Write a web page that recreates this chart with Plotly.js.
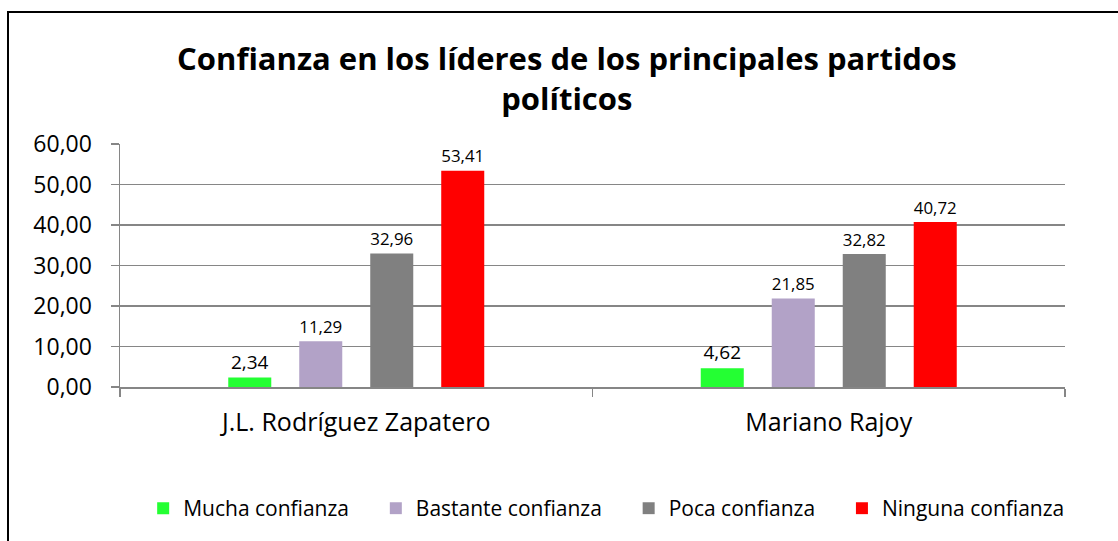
<!DOCTYPE html>
<html>
<head>
<meta charset="utf-8">
<script src="https://cdn.plot.ly/plotly-3.0.1.min.js"></script>
<style>
  html, body { margin: 0; padding: 0; background: #fff; }
  #wrap { position: relative; width: 1118px; height: 541px; overflow: hidden; }
  #chart { position: absolute; left: 0; top: 0; width: 1118px; height: 541px; }
  #frame { position: absolute; left: 7px; top: 11px; width: 1200px; height: 600px;
           border-left: 2px solid #000; border-top: 2px solid #000; pointer-events: none; }
</style>
</head>
<body>
<div id="wrap">
  <div id="chart"></div>
  <div id="frame"></div>
</div>
<script>
const categories = ["J.L. Rodríguez Zapatero", "Mariano Rajoy"];
const seriesNames = ["Mucha confianza", "Bastante confianza", "Poca confianza", "Ninguna confianza"];
const mucha = [2.34, 4.62];
const bastante = [11.29, 21.85];
const poca = [32.96, 32.82];
const ninguna = [53.41, 40.72];
const yTicks = [0, 10, 20, 30, 40, 50, 60];

const colors = ["#24FF33", "#B2A2C7", "#808080", "#FF0000"];
const values = [mucha, bastante, poca, ninguna];
const FONT = "'Open Sans', 'Noto Sans', sans-serif";
const PAD = "\u00A0\u00A0\u00A0\u00A0";

const traces = values.map((v, i) => ({
  type: "bar",
  name: seriesNames[i] + (i < values.length - 1 ? PAD : ""),
  x: categories,
  y: v,
  marker: { color: colors[i], line: { width: 0 } },
  texttemplate: "%{y:.2f}",
  textposition: "outside",
  cliponaxis: false,
  textfont: { family: FONT, size: 19, color: "#000" },
  hoverinfo: "skip"
}));

const layout = {
  width: 1118,
  height: 541,
  separators: ",.",
  paper_bgcolor: "rgba(0,0,0,0)",
  plot_bgcolor: "#fff",
  margin: { l: 120, r: 53, t: 144, b: 152 },
  font: { family: FONT, color: "#000" },
  title: {
    text: "<b>Confianza en los líderes de los principales partidos<br>políticos</b>",
    font: { family: FONT, size: 31, color: "#000" },
    x: 0.507, xanchor: "center",
    y: 0.871, yanchor: "middle"
  },
  barmode: "group",
  bargap: 0.399,
  bargroupgap: 0.394,
  xaxis: {
    type: "category",
    tickson: "boundaries",
    ticks: "outside",
    ticklen: 8,
    tickcolor: "#868686",
    tickwidth: 1.5,
    showline: true,
    linecolor: "#868686",
    linewidth: 1.5,
    showgrid: false,
    ticklabelstandoff: 12,
    tickfont: { family: FONT, size: 25, color: "#000" }
  },
  yaxis: {
    range: [0, 60],
    tickvals: yTicks,
    tickformat: ".2f",
    ticks: "outside",
    ticklen: 8,
    tickcolor: "#868686",
    tickwidth: 1.5,
    showline: true,
    linecolor: "#868686",
    linewidth: 1.5,
    showgrid: true,
    gridcolor: "#868686",
    gridwidth: 1.5,
    zeroline: false,
    ticklabelstandoff: 14,
    tickfont: { family: FONT, size: 23, color: "#000" }
  },
  legend: {
    orientation: "h",
    x: 0.515, xanchor: "center",
    y: -0.50, yanchor: "middle",
    font: { family: FONT, size: 21, color: "#000" },
    itemsizing: "constant",
    traceorder: "normal"
  },
  showlegend: true
};

Plotly.newPlot("chart", traces, layout, { staticPlot: true, displayModeBar: false });
</script>
</body>
</html>
